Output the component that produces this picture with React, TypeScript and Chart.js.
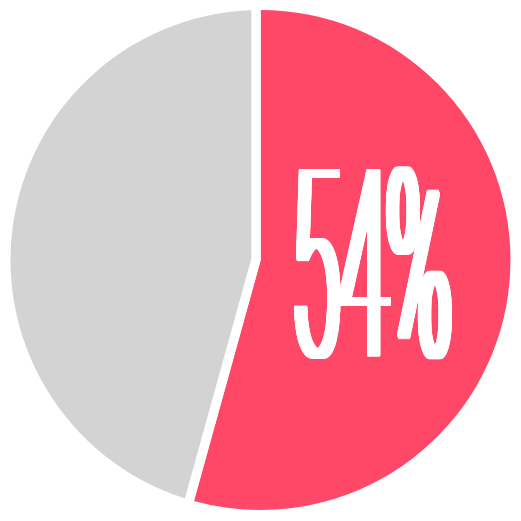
import React, { useEffect, useRef } from "react";
import { Chart, registerables } from "chart.js";

Chart.register(...registerables);

const categories = ["Yes", "No"];
const values = [54.3, 45.7];
const sliceColors = ["#ff4868", "#d3d3d3"];
const centerLabel = "54%";

export default function App() {
  const ref = useRef<HTMLCanvasElement>(null);

  useEffect(() => {
    if (!ref.current) return;

    const gapPlugin = {
      id: "gapPlugin",
      afterDatasetsDraw(chart: any) {
        const arc = chart.getDatasetMeta(0).data[1];
        if (!arc) return;
        const { x, y, startAngle, endAngle, outerRadius } = arc.getProps(
          ["x", "y", "startAngle", "endAngle", "outerRadius"],
          true
        );
        const ctx = chart.ctx;
        const w = 9.5;
        const off = w / 2 - 0.3;
        ctx.save();
        ctx.strokeStyle = "#ffffff";
        ctx.lineWidth = w;
        ctx.lineCap = "butt";
        const edges: [number, number][] = [
          [startAngle, 1],
          [endAngle, -1],
        ];
        for (const [a, s] of edges) {
          const ux = Math.cos(a);
          const uy = Math.sin(a);
          const nx = -Math.sin(a) * s;
          const ny = Math.cos(a) * s;
          ctx.beginPath();
          ctx.moveTo(x + nx * off, y + ny * off);
          ctx.lineTo(
            x + ux * (outerRadius + 4) + nx * off,
            y + uy * (outerRadius + 4) + ny * off
          );
          ctx.stroke();
        }
        ctx.restore();
      },
    };

    const textPlugin = {
      id: "textPlugin",
      afterDraw(chart: any) {
        const arc = chart.getDatasetMeta(0).data[0];
        if (!arc) return;
        const { x, y, outerRadius: R } = arc.getProps(["x", "y", "outerRadius"], true);
        const ctx = chart.ctx;
        const left = x + 0.13 * R;
        const top = y - 0.388 * R;
        const boxW = 0.64 * R;
        const boxH = 0.78 * R;
        const family = "Roboto";
        const weight = 100;
        const dx = 11;
        const dy = 2;
        ctx.save();
        ctx.font = `${weight} 100px ${family}`;
        let m = ctx.measureText(centerLabel);
        const inkH100 = m.actualBoundingBoxAscent + m.actualBoundingBoxDescent;
        const size = (100 * (boxH - dy)) / inkH100;
        ctx.font = `${weight} ${size}px ${family}`;
        m = ctx.measureText(centerLabel);
        const inkW = m.actualBoundingBoxLeft + m.actualBoundingBoxRight;
        const sx = (boxW - dx) / inkW;
        ctx.fillStyle = "#ffffff";
        ctx.textAlign = "left";
        ctx.textBaseline = "alphabetic";
        for (let i = 0; i <= dx; i++) {
          for (let j = 0; j <= dy; j++) {
            ctx.save();
            ctx.translate(left + i, top + j);
            ctx.scale(sx, 1);
            ctx.fillText(centerLabel, m.actualBoundingBoxLeft, m.actualBoundingBoxAscent);
            ctx.restore();
          }
        }
        ctx.restore();
      },
    };

    const chart = new Chart(ref.current, {
      type: "pie",
      data: {
        labels: categories,
        datasets: [
          {
            data: values,
            backgroundColor: sliceColors,
            borderWidth: 0,
          },
        ],
      },
      options: {
        animation: false,
        responsive: true,
        maintainAspectRatio: false,
        radius: 250,
        layout: { padding: 0 },
        plugins: {
          legend: { display: false },
          tooltip: { enabled: false },
        },
      },
      plugins: [gapPlugin, textPlugin],
    });
    return () => chart.destroy();
  }, []);

  return (
    <div style={{ width: 505, height: 504, position: "relative" }}>
      <canvas ref={ref} />
    </div>
  );
}
